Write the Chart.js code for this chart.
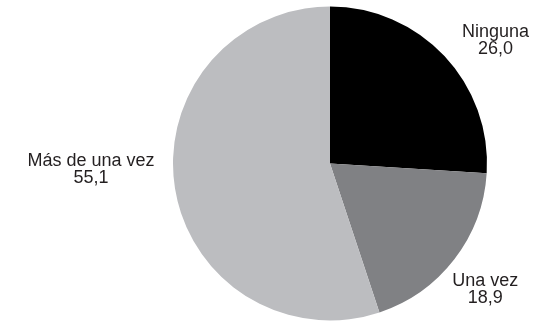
<!DOCTYPE html>
<html>
<head>
<meta charset="utf-8">
<script src="https://cdn.jsdelivr.net/npm/chart.js@4"></script>
<style>
  html, body { margin: 0; padding: 0; background: #fff; }
  #wrap { width: 541px; height: 322px; }
</style>
</head>
<body>
<div id="wrap"><canvas id="pie" width="541" height="322"></canvas></div>
<script>
const categories = ['Ninguna', 'Una vez', 'Más de una vez'];
const shares = [26.0, 18.9, 55.1];
const sliceColors = ['#000000', '#808184', '#bcbdc0'];

// label nudges from the slice's outer edge at its middle angle
const labelNudges = [[51, -15], [31, 30], [-84, -19]];

const outsideLabels = {
    id: 'outsideLabels',
    afterDatasetsDraw(chart) {
        const ctx = chart.ctx;
        const arcs = chart.getDatasetMeta(0).data;
        ctx.save();
        ctx.font = '18px "Liberation Sans", Arial, sans-serif';
        ctx.fillStyle = '#231f20';
        ctx.textAlign = 'center';
        ctx.textBaseline = 'middle';
        arcs.forEach((arc, i) => {
            const p = arc.getProps(['x', 'y', 'startAngle', 'endAngle', 'outerRadius'], true);
            const mid = (p.startAngle + p.endAngle) / 2;
            const x = p.x + Math.cos(mid) * p.outerRadius + labelNudges[i][0];
            const y = p.y + Math.sin(mid) * p.outerRadius + labelNudges[i][1];
            ctx.fillText(categories[i], x, y - 8.5);
            ctx.fillText(shares[i].toFixed(1).replace('.', ','), x, y + 8.5);
        });
        ctx.restore();
    }
};

new Chart(document.getElementById('pie'), {
    type: 'pie',
    data: {
        labels: categories,
        datasets: [{
            data: shares,
            backgroundColor: sliceColors,
            borderWidth: 0
        }]
    },
    options: {
        responsive: false,
        animation: false,
        layout: {
            padding: { left: 173, right: 54, top: 6, bottom: 1 }
        },
        plugins: {
            legend: { display: false },
            tooltip: { enabled: false }
        }
    },
    plugins: [outsideLabels]
});
</script>
</body>
</html>
